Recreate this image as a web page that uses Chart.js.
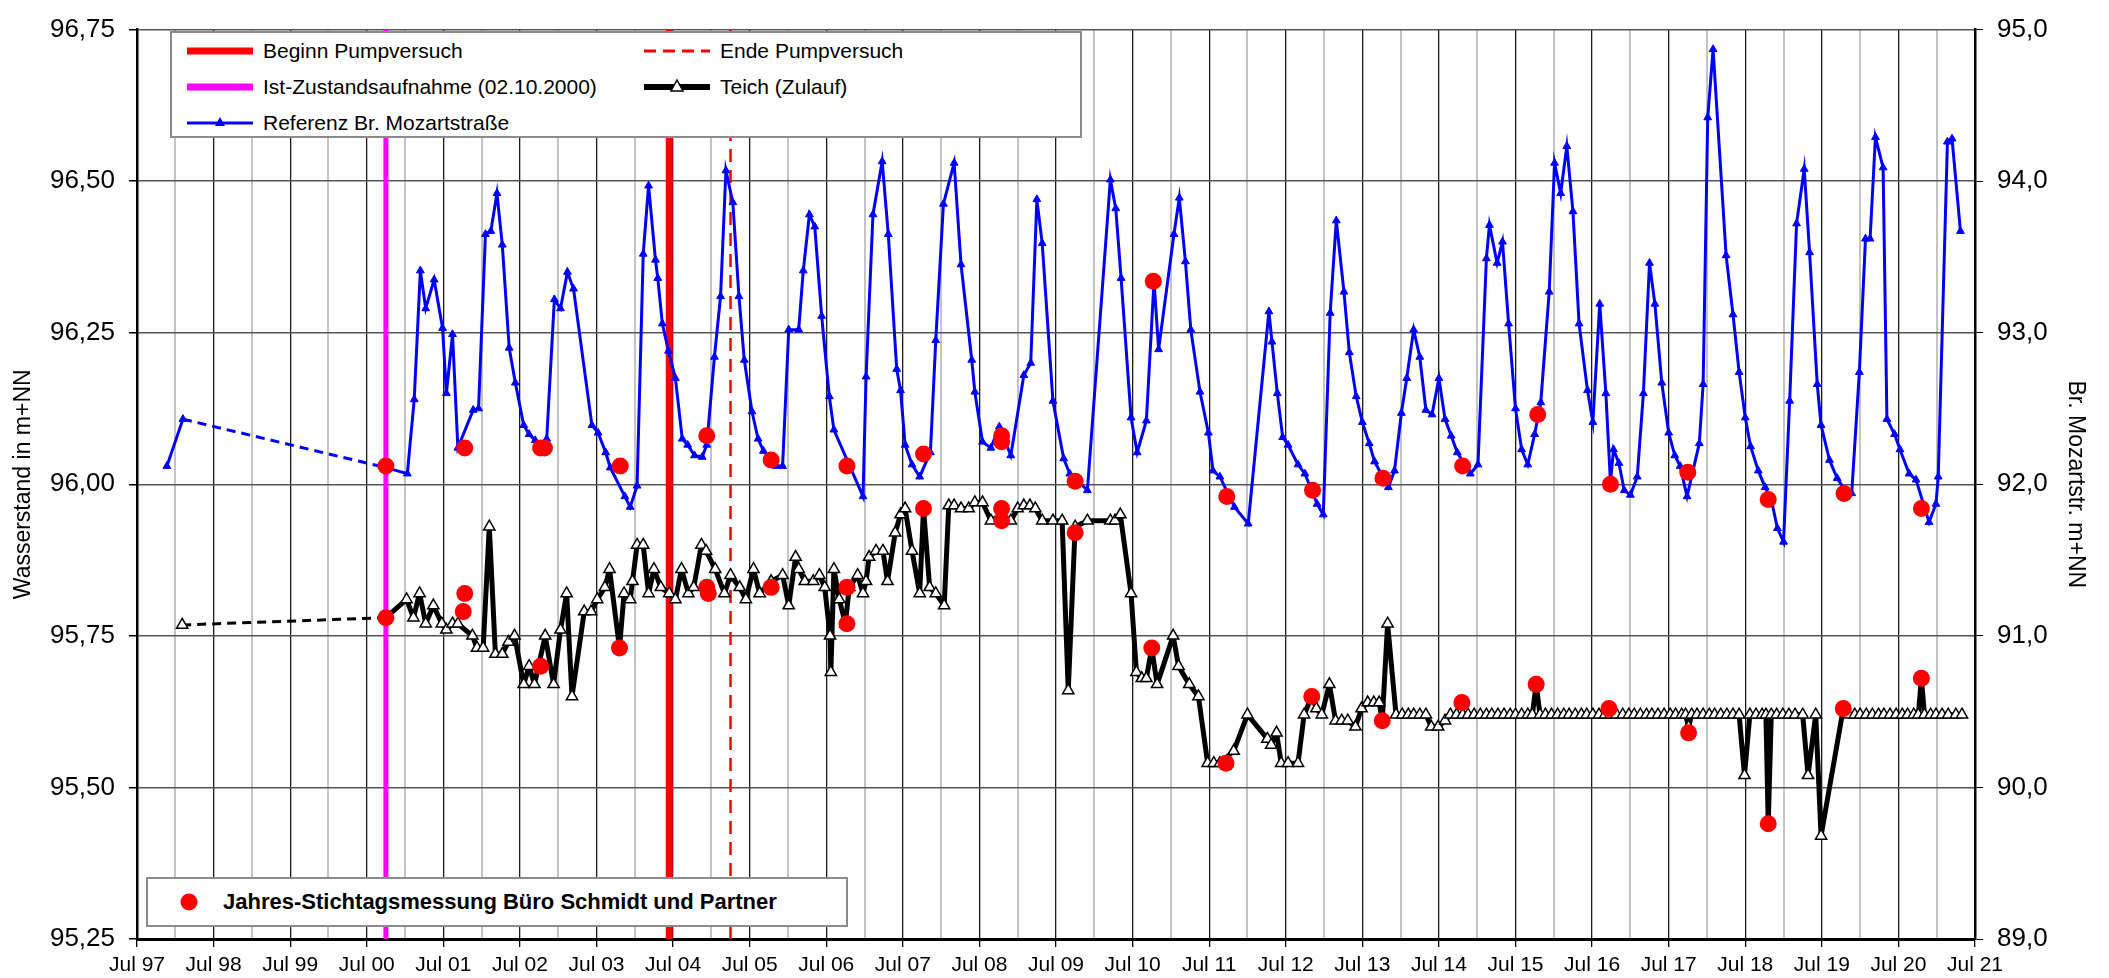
<!DOCTYPE html>
<html>
<head>
<meta charset="utf-8">
<script src="https://cdn.jsdelivr.net/npm/chart.js@4.4.1/dist/chart.umd.min.js"></script>
<style>
  body { margin: 0; background: #fff; font-family: 'Liberation Sans', Arial, sans-serif; }
  #wrap { position: relative; width: 2109px; height: 978px; }
  .box { position: absolute; background: #fff; border: 2px solid #8c8c8c; box-sizing: border-box; }
  .item { position: absolute; font-size: 21px; line-height: 24px; white-space: nowrap; color: #000; }
  .item svg { position: absolute; left: -78px; top: 2px; }
</style>
</head>
<body>
<div id="wrap">
  <canvas id="chart" width="2109" height="978"></canvas>

  <div class="box" style="left:170px; top:31px; width:912px; height:107px;">
    <div class="item" style="left:91px; top:6px;">
      <svg width="70" height="20"><line x1="2" y1="10" x2="68" y2="10" stroke="#ff0000" stroke-width="7"/></svg>Beginn Pumpversuch</div>
    <div class="item" style="left:548px; top:6px;">
      <svg width="70" height="20"><line x1="2" y1="10" x2="68" y2="10" stroke="#ff0000" stroke-width="3" stroke-dasharray="12,7"/></svg>Ende Pumpversuch</div>
    <div class="item" style="left:91px; top:42px;">
      <svg width="70" height="20"><line x1="2" y1="10" x2="68" y2="10" stroke="#ff00ff" stroke-width="7"/></svg>Ist-Zustandsaufnahme (02.10.2000)</div>
    <div class="item" style="left:548px; top:42px;">
      <svg width="70" height="20"><line x1="2" y1="10" x2="68" y2="10" stroke="#000" stroke-width="6"/><polygon points="35,3 41,14 29,14" fill="#fff" stroke="#000" stroke-width="1.5"/></svg>Teich (Zulauf)</div>
    <div class="item" style="left:91px; top:78px;">
      <svg width="70" height="20"><line x1="2" y1="10" x2="68" y2="10" stroke="#0000ff" stroke-width="3"/><polygon points="35,4 40,13 30,13" fill="#0000ff"/></svg>Referenz Br. Mozartstraße</div>
  </div>

  <div class="box" style="left:146px; top:877px; width:702px; height:50px;">
    <div class="item" style="left:75px; top:11px; font-weight:bold; font-size:22px;">
      <svg width="70" height="20" style="left:-44px;"><circle cx="10" cy="10" r="8.5" fill="#ff0000"/></svg>Jahres-Stichtagsmessung Büro Schmidt und Partner</div>
  </div>
</div>

<script>
// Jahre der Juli-Ticks (Beschriftung "Jul YY")
const yearLabels = ['97','98','99','00','01','02','03','04','05','06','07','08','09','10',
                    '11','12','13','14','15','16','17','18','19','20','21'];
const leftTicks = [95.25, 95.5, 95.75, 96.0, 96.25, 96.5, 96.75];
const rightTicks = [89, 90, 91, 92, 93, 94, 95];

// Ereignisse (Dezimaljahr)
const istZustand = 2000.75;
const beginnPump = 2004.45;
const endePump = 2005.25;

// Referenz Br. Mozartstraße [Jahr, m+NN] (rechte Achse)
const referenz = [
  [1997.89, 92.12], [1998.10, 92.43], [2000.75, 92.11], [2001.03, 92.07], [2001.12, 92.56],
  [2001.20, 93.41], [2001.27, 93.16], [2001.38, 93.35], [2001.49, 93.03], [2001.54, 92.60],
  [2001.62, 92.99], [2001.69, 92.24], [2001.89, 92.49], [2001.96, 92.50], [2002.05, 93.65],
  [2002.12, 93.67], [2002.20, 93.92], [2002.27, 93.58], [2002.36, 92.90], [2002.44, 92.67],
  [2002.55, 92.39], [2002.62, 92.33], [2002.70, 92.29], [2002.77, 92.24], [2002.85, 92.30],
  [2002.95, 93.22], [2003.03, 93.16], [2003.12, 93.40], [2003.20, 93.29], [2003.44, 92.39],
  [2003.52, 92.34], [2003.62, 92.21], [2003.68, 92.11], [2003.87, 91.92], [2003.94, 91.85],
  [2004.03, 91.99], [2004.11, 93.52], [2004.18, 93.97], [2004.27, 93.48], [2004.30, 93.36],
  [2004.36, 93.06], [2004.44, 92.88], [2004.53, 92.70], [2004.62, 92.30], [2004.69, 92.26],
  [2004.78, 92.19], [2004.88, 92.18], [2004.94, 92.26], [2005.04, 92.84], [2005.12, 93.24],
  [2005.19, 94.07], [2005.28, 93.86], [2005.36, 93.24], [2005.43, 92.82], [2005.53, 92.48],
  [2005.61, 92.30], [2005.68, 92.22], [2005.85, 92.12], [2005.93, 92.12], [2006.01, 93.02],
  [2006.14, 93.02], [2006.20, 93.41], [2006.28, 93.78], [2006.35, 93.70], [2006.44, 93.11],
  [2006.54, 92.58], [2006.60, 92.36], [2006.98, 91.92], [2007.02, 92.71], [2007.11, 93.78],
  [2007.23, 94.13], [2007.31, 93.65], [2007.42, 92.76], [2007.47, 92.62], [2007.53, 92.26],
  [2007.62, 92.13], [2007.72, 92.05], [2007.86, 92.21], [2007.93, 92.95], [2008.03, 93.85],
  [2008.17, 94.12], [2008.26, 93.45], [2008.40, 92.82], [2008.44, 92.61], [2008.54, 92.28],
  [2008.65, 92.24], [2008.76, 92.38], [2008.91, 92.19], [2009.08, 92.72], [2009.17, 92.80],
  [2009.25, 93.88], [2009.32, 93.59], [2009.46, 92.55], [2009.60, 92.17], [2009.68, 92.07],
  [2009.91, 91.96], [2010.21, 94.01], [2010.28, 93.82], [2010.35, 93.36], [2010.48, 92.44],
  [2010.56, 92.21], [2010.68, 92.42], [2010.78, 93.34], [2010.84, 92.89], [2011.04, 93.65],
  [2011.11, 93.89], [2011.19, 93.47], [2011.26, 93.02], [2011.38, 92.61], [2011.49, 92.34],
  [2011.55, 92.09], [2011.64, 92.05], [2011.83, 91.85], [2012.01, 91.74], [2012.28, 93.14],
  [2012.32, 92.94], [2012.39, 92.60], [2012.46, 92.31], [2012.53, 92.26], [2012.66, 92.13],
  [2012.75, 92.07], [2012.91, 91.87], [2012.99, 91.80], [2013.08, 93.13], [2013.16, 93.74],
  [2013.26, 93.27], [2013.33, 92.87], [2013.42, 92.58], [2013.50, 92.41], [2013.59, 92.27],
  [2013.66, 92.15], [2013.84, 91.98], [2013.92, 92.09], [2014.01, 92.47], [2014.08, 92.70],
  [2014.17, 93.02], [2014.25, 92.84], [2014.33, 92.49], [2014.41, 92.46], [2014.50, 92.70],
  [2014.58, 92.43], [2014.66, 92.32], [2014.74, 92.21], [2014.91, 92.07], [2015.01, 92.13],
  [2015.12, 93.49], [2015.16, 93.71], [2015.26, 93.46], [2015.33, 93.60], [2015.41, 93.06],
  [2015.50, 92.50], [2015.58, 92.23], [2015.66, 92.13], [2015.75, 92.33], [2015.83, 92.54],
  [2015.94, 93.27], [2016.01, 94.12], [2016.09, 93.92], [2016.17, 94.23], [2016.25, 93.80],
  [2016.33, 93.06], [2016.44, 92.62], [2016.51, 92.41], [2016.60, 93.19], [2016.68, 92.60],
  [2016.74, 92.01], [2016.78, 92.23], [2016.85, 92.14], [2016.92, 91.96], [2017.00, 91.93],
  [2017.09, 92.05], [2017.17, 92.60], [2017.25, 93.46], [2017.32, 93.19], [2017.41, 92.67],
  [2017.50, 92.34], [2017.58, 92.19], [2017.65, 92.12], [2017.74, 91.92], [2017.90, 92.27],
  [2017.95, 92.66], [2018.01, 94.42], [2018.08, 94.87], [2018.25, 93.51], [2018.34, 93.12],
  [2018.42, 92.74], [2018.50, 92.44], [2018.57, 92.25], [2018.67, 92.09], [2018.76, 91.98],
  [2018.84, 91.90], [2018.92, 91.71], [2019.00, 91.62], [2019.08, 92.55], [2019.17, 93.72],
  [2019.27, 94.08], [2019.34, 93.53], [2019.44, 92.66], [2019.49, 92.39], [2019.60, 92.16],
  [2019.70, 92.04], [2019.82, 91.95], [2019.89, 91.94], [2019.99, 92.74], [2020.07, 93.62],
  [2020.13, 93.62], [2020.20, 94.29], [2020.30, 94.09], [2020.35, 92.43], [2020.45, 92.33],
  [2020.52, 92.23], [2020.64, 92.07], [2020.73, 92.03], [2020.90, 91.75], [2020.99, 91.87],
  [2021.02, 92.05], [2021.14, 94.26], [2021.20, 94.28], [2021.31, 93.67]
];

// Teich (Zulauf) [Jahr, m+NN] (linke Achse)
const teich = [
  [1998.09, 95.768], [2000.75, 95.78], [2001.02, 95.81], [2001.11, 95.78], [2001.19, 95.82],
  [2001.27, 95.77], [2001.37, 95.80], [2001.48, 95.77], [2001.54, 95.76], [2001.62, 95.77],
  [2001.69, 95.77], [2001.88, 95.75], [2001.94, 95.73], [2002.02, 95.73], [2002.10, 95.93],
  [2002.18, 95.72], [2002.27, 95.72], [2002.35, 95.74], [2002.43, 95.75], [2002.55, 95.67],
  [2002.62, 95.70], [2002.69, 95.67], [2002.83, 95.75], [2002.94, 95.67], [2003.03, 95.76],
  [2003.11, 95.82], [2003.18, 95.65], [2003.34, 95.79], [2003.43, 95.79], [2003.51, 95.81],
  [2003.61, 95.83], [2003.67, 95.86], [2003.80, 95.73], [2003.86, 95.82], [2003.94, 95.81],
  [2003.97, 95.84], [2004.03, 95.90], [2004.11, 95.90], [2004.18, 95.82], [2004.25, 95.86],
  [2004.34, 95.83], [2004.45, 95.82], [2004.53, 95.81], [2004.61, 95.86], [2004.70, 95.82],
  [2004.77, 95.83], [2004.87, 95.90], [2004.93, 95.89], [2005.05, 95.86], [2005.17, 95.82],
  [2005.25, 95.85], [2005.37, 95.83], [2005.45, 95.81], [2005.55, 95.86], [2005.63, 95.82],
  [2005.78, 95.84], [2005.93, 95.85], [2006.01, 95.80], [2006.10, 95.88], [2006.14, 95.86],
  [2006.22, 95.84], [2006.33, 95.84], [2006.41, 95.85], [2006.48, 95.83], [2006.55, 95.75],
  [2006.56, 95.69], [2006.60, 95.86], [2006.67, 95.81], [2006.75, 95.77], [2006.80, 95.83],
  [2006.91, 95.85], [2006.98, 95.82], [2007.02, 95.84], [2007.06, 95.88], [2007.15, 95.89],
  [2007.24, 95.89], [2007.30, 95.84], [2007.40, 95.92], [2007.47, 95.95], [2007.53, 95.96],
  [2007.62, 95.89], [2007.72, 95.82], [2007.77, 95.96], [2007.85, 95.83], [2007.93, 95.82],
  [2008.04, 95.80], [2008.10, 95.965], [2008.17, 95.965], [2008.26, 95.96], [2008.36, 95.96],
  [2008.44, 95.97], [2008.54, 95.97], [2008.65, 95.94], [2008.79, 95.95], [2008.91, 95.94],
  [2009.00, 95.96], [2009.08, 95.965], [2009.16, 95.965], [2009.23, 95.96], [2009.32, 95.94],
  [2009.46, 95.94], [2009.58, 95.94], [2009.66, 95.66], [2009.75, 95.93], [2009.91, 95.94],
  [2010.21, 95.94], [2010.27, 95.94], [2010.34, 95.95], [2010.48, 95.82], [2010.55, 95.69],
  [2010.62, 95.68], [2010.68, 95.68], [2010.75, 95.73], [2010.82, 95.67], [2011.03, 95.75],
  [2011.10, 95.70], [2011.24, 95.67], [2011.36, 95.65], [2011.48, 95.54], [2011.56, 95.54],
  [2011.64, 95.54], [2011.82, 95.56], [2012.00, 95.62], [2012.26, 95.58], [2012.31, 95.57],
  [2012.38, 95.59], [2012.44, 95.54], [2012.53, 95.54], [2012.66, 95.54], [2012.74, 95.62],
  [2012.84, 95.65], [2012.90, 95.63], [2012.97, 95.62], [2013.07, 95.67], [2013.15, 95.61],
  [2013.23, 95.61], [2013.31, 95.61], [2013.41, 95.60], [2013.49, 95.63], [2013.57, 95.64],
  [2013.65, 95.64], [2013.72, 95.64], [2013.76, 95.61], [2013.83, 95.77], [2013.94, 95.62],
  [2014.02, 95.62], [2014.10, 95.62], [2014.17, 95.62], [2014.25, 95.62], [2014.33, 95.62],
  [2014.40, 95.60], [2014.49, 95.60], [2014.58, 95.61], [2014.65, 95.62], [2014.73, 95.62],
  [2014.81, 95.62], [2014.88, 95.62], [2014.96, 95.62], [2015.04, 95.62], [2015.12, 95.62],
  [2015.19, 95.62], [2015.27, 95.62], [2015.35, 95.62], [2015.43, 95.62], [2015.50, 95.62],
  [2015.58, 95.62], [2015.66, 95.62], [2015.72, 95.62], [2015.77, 95.67], [2015.82, 95.62],
  [2015.89, 95.62], [2015.97, 95.62], [2016.05, 95.62], [2016.13, 95.62], [2016.20, 95.62],
  [2016.28, 95.62], [2016.36, 95.62], [2016.43, 95.62], [2016.51, 95.62], [2016.59, 95.62],
  [2016.67, 95.62], [2016.74, 95.62], [2016.82, 95.62], [2016.90, 95.62], [2016.98, 95.62],
  [2017.05, 95.62], [2017.13, 95.62], [2017.21, 95.62], [2017.28, 95.62], [2017.36, 95.62],
  [2017.44, 95.62], [2017.52, 95.62], [2017.59, 95.62], [2017.67, 95.62], [2017.72, 95.62],
  [2017.76, 95.60], [2017.80, 95.62], [2017.87, 95.62], [2017.95, 95.62], [2018.03, 95.62],
  [2018.10, 95.62], [2018.18, 95.62], [2018.26, 95.62], [2018.34, 95.62], [2018.42, 95.62],
  [2018.49, 95.52], [2018.56, 95.62], [2018.64, 95.62], [2018.72, 95.62], [2018.77, 95.62],
  [2018.80, 95.44], [2018.84, 95.62], [2018.91, 95.62], [2018.99, 95.62], [2019.07, 95.62],
  [2019.15, 95.62], [2019.25, 95.62], [2019.32, 95.52], [2019.42, 95.62], [2019.49, 95.42],
  [2019.78, 95.63], [2019.85, 95.62], [2019.93, 95.62], [2020.00, 95.62], [2020.08, 95.62],
  [2020.16, 95.62], [2020.24, 95.62], [2020.31, 95.62], [2020.39, 95.62], [2020.47, 95.62],
  [2020.55, 95.62], [2020.62, 95.62], [2020.70, 95.62], [2020.76, 95.62], [2020.80, 95.68],
  [2020.84, 95.62], [2020.92, 95.62], [2020.99, 95.62], [2021.07, 95.62], [2021.15, 95.62],
  [2021.25, 95.62], [2021.33, 95.62]
];

// Jahres-Stichtagsmessung Büro Schmidt und Partner [Jahr, m+NN] (linke Achse)
const stichtag = [
  [2000.75, 96.03], [2000.75, 95.78], [2001.78, 96.06], [2001.78, 95.82], [2001.76, 95.79],
  [2002.77, 96.06], [2002.82, 96.06], [2002.77, 95.70], [2003.81, 96.03], [2003.80, 95.73],
  [2004.94, 96.08], [2004.94, 95.83], [2004.96, 95.82], [2005.78, 96.04], [2005.78, 95.83],
  [2006.77, 96.03], [2006.77, 95.83], [2006.77, 95.77], [2007.77, 96.05], [2007.77, 95.96],
  [2008.79, 96.08], [2008.79, 96.07], [2008.79, 95.96], [2008.79, 95.94], [2009.75, 96.005],
  [2009.75, 95.92], [2010.77, 96.335], [2010.75, 95.73], [2011.73, 95.98], [2011.72, 95.54],
  [2012.85, 95.99], [2012.84, 95.65], [2013.77, 96.01], [2013.76, 95.61], [2014.81, 96.03],
  [2014.80, 95.64], [2015.79, 96.115], [2015.77, 95.67], [2016.74, 96.00], [2016.72, 95.63],
  [2017.75, 96.02], [2017.76, 95.59], [2018.80, 95.975], [2018.80, 95.44], [2019.79, 95.985],
  [2019.78, 95.63], [2020.80, 95.96], [2020.80, 95.68]
];

const toXY = arr => arr.map(p => ({ x: p[0], y: p[1] }));
const vline = x => [{ x: x, y: leftTicks[0] }, { x: x, y: leftTicks[leftTicks.length - 1] }];

const xStart = 1997.5;
const xTickValues = [];
yearLabels.forEach((lbl, i) => {
    xTickValues.push(xStart + i);
    if (i < yearLabels.length - 1) xTickValues.push(xStart + i + 0.5);
});
const isJul = v => Math.abs(v - Math.floor(v) - 0.5) < 0.01;

const font = "'Liberation Sans', Arial, sans-serif";
const gapDash = ctx => (ctx.p1.parsed.x - ctx.p0.parsed.x > 2 ? [9, 6] : undefined);

new Chart(document.getElementById('chart').getContext('2d'), {
    type: 'line',
    data: {
        datasets: [
            {
                type: 'scatter',
                data: toXY(stichtag),
                yAxisID: 'y',
                pointStyle: 'circle',
                pointRadius: 8.5,
                pointBackgroundColor: '#ff0000',
                pointBorderWidth: 0,
                order: 0
            },
            {
                data: toXY(referenz),
                yAxisID: 'y2',
                borderColor: '#0000ff',
                borderWidth: 3,
                pointStyle: 'triangle',
                pointRadius: 4.5,
                pointBackgroundColor: '#0000ff',
                pointBorderColor: '#0000ff',
                pointBorderWidth: 1,
                segment: { borderDash: gapDash },
                order: 1
            },
            {
                data: toXY(teich),
                yAxisID: 'y',
                borderColor: '#000',
                borderWidth: 5,
                borderJoinStyle: 'round',
                pointStyle: 'triangle',
                pointRadius: 6.5,
                pointBackgroundColor: '#fff',
                pointBorderColor: '#000',
                pointBorderWidth: 1.5,
                segment: {
                    borderDash: gapDash,
                    borderWidth: ctx => (ctx.p1.parsed.x - ctx.p0.parsed.x > 2 ? 3 : undefined)
                },
                order: 2
            },
            {
                data: vline(istZustand), yAxisID: 'y',
                borderColor: '#ff00ff', borderWidth: 5, pointRadius: 0, order: 3
            },
            {
                data: vline(beginnPump), yAxisID: 'y',
                borderColor: '#ff0000', borderWidth: 7, pointRadius: 0, order: 4
            },
            {
                data: vline(endePump), yAxisID: 'y',
                borderColor: '#ff0000', borderWidth: 2.5, borderDash: [13, 8], pointRadius: 0, order: 5
            }
        ]
    },
    options: {
        responsive: false,
        animation: false,
        devicePixelRatio: 1,
        layout: { padding: { top: 18, left: 0, right: 0, bottom: 0 } },
        plugins: { legend: { display: false }, tooltip: { enabled: false } },
        elements: { line: { tension: 0 } },
        scales: {
            x: {
                type: 'linear',
                min: xStart,
                max: xStart + yearLabels.length - 1,
                afterBuildTicks: axis => { axis.ticks = xTickValues.map(v => ({ value: v })); },
                afterFit: s => { s.height = 39; },
                ticks: {
                    autoSkip: false,
                    maxRotation: 0,
                    padding: 6,
                    color: '#000',
                    font: { family: font, size: 21 },
                    callback: v => (isJul(v) ? 'Jul ' + yearLabels[Math.round(v - xStart)] : '')
                },
                grid: {
                    color: ctx => (ctx.tick && isJul(ctx.tick.value) ? '#1a1a1a' : '#c4c4c4'),
                    lineWidth: ctx => (ctx.tick && isJul(ctx.tick.value) ? 1.3 : 2),
                    tickLength: 8,
                    tickColor: ctx => (ctx.tick && isJul(ctx.tick.value) ? '#000' : 'rgba(0,0,0,0)')
                },
                border: { color: '#000', width: 3 }
            },
            y: {
                position: 'left',
                min: leftTicks[0],
                max: leftTicks[leftTicks.length - 1],
                afterBuildTicks: axis => { axis.ticks = leftTicks.map(v => ({ value: v })); },
                afterFit: s => { s.width = 137; },
                ticks: {
                    padding: 14,
                    color: '#000',
                    font: { family: font, size: 26 },
                    callback: v => v.toFixed(2).replace('.', ',')
                },
                grid: { color: '#555', lineWidth: 1.5, tickLength: 8, tickColor: '#000' },
                border: { color: '#000', width: 2.5 },
                title: {
                    display: true,
                    text: 'Wasserstand in m+NN',
                    color: '#000',
                    font: { family: font, size: 23 },
                    padding: { top: 10, bottom: 0 }
                }
            },
            y2: {
                position: 'right',
                min: rightTicks[0],
                max: rightTicks[rightTicks.length - 1],
                afterBuildTicks: axis => { axis.ticks = rightTicks.map(v => ({ value: v })); },
                afterFit: s => { s.width = 134; },
                ticks: {
                    padding: 14,
                    color: '#000',
                    font: { family: font, size: 26 },
                    callback: v => v.toFixed(1).replace('.', ',')
                },
                grid: { drawOnChartArea: false, tickLength: 8, tickColor: '#000' },
                border: { color: '#000', width: 2.5 },
                title: {
                    display: true,
                    text: 'Br. Mozartstr. m+NN',
                    color: '#000',
                    font: { family: font, size: 23 },
                    padding: { top: 20, bottom: 0 }
                }
            }
        }
    }
});
</script>
</body>
</html>
